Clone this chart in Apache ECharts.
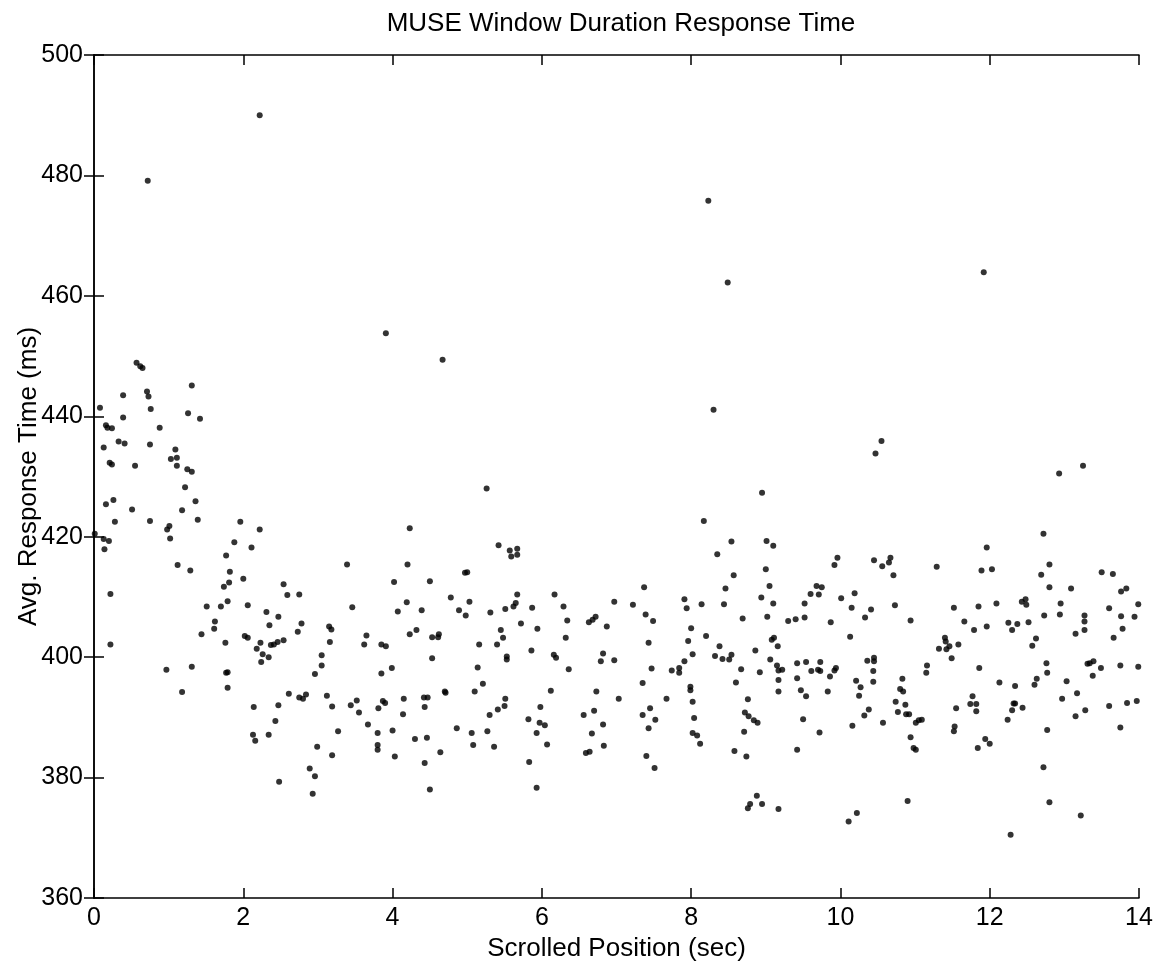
<!DOCTYPE html>
<html>
<head>
<meta charset="utf-8">
<script src="https://cdn.jsdelivr.net/npm/echarts@6/dist/echarts.min.js"></script>
<style>html,body{margin:0;padding:0;background:#fff}#c{width:1162px;height:975px}</style>
</head>
<body>
<div id="c"></div>
<script>
const titleText = 'MUSE Window Duration Response Time';
const xTitle = 'Scrolled Position (sec)';
const yTitle = 'Avg. Response Time (ms)';
const xTicks = [0, 2, 4, 6, 8, 10, 12, 14];
const yTicks = [360, 380, 400, 420, 440, 460, 480, 500];

const positions = [
2.22,0.72,0.57,0.62,0.65,1.31,0.39,0.71,0.73,0.08,0.76,1.26,
0.39,1.42,0.16,0.18,0.24,0.88,0.33,0.41,0.13,0.75,1.09,1.03,1.11,0.21,0.24,0.55,1.11,1.25,1.31,1.22,
0.16,0.26,0.51,1.18,1.36,0.28,0.75,1.39,0.98,1.01,1.02,1.96,2.22,0.01,0.13,0.20,0.14,1.88,2.11,1.77,
1.12,1.29,1.82,2.00,1.81,1.74,3.39,2.54,2.59,2.75,0.22,1.51,1.70,1.79,2.06,3.46,2.31,2.47,2.35,1.62,
1.61,1.44,2.02,2.06,2.78,2.73,3.15,3.18,1.76,2.23,2.37,2.41,2.46,2.54,2.18,2.26,2.34,2.24,3.16,3.05,
3.05,2.96,0.22,0.97,1.31,1.77,1.79,1.79,1.18,2.61,2.75,2.80,2.84,3.12,
3.52,2.14,2.47,3.19,3.44,3.55,2.43,2.13,2.16,2.34,3.27,2.99,3.19,2.89,2.96,2.48,2.93,
3.91,4.67,
5.26,4.23,5.42,5.57,5.67,5.59,5.67,4.20,4.97,5.00,4.02,4.50,4.78,5.03,4.19,4.07,4.39,4.89,4.98,5.31,
5.51,5.67,5.62,5.65,5.87,6.17,6.29,6.97,5.72,5.94,6.34,6.63,6.68,6.72,6.87,3.65,3.62,3.85,3.91,4.23,
4.32,4.53,4.61,4.62,5.16,5.45,5.48,5.40,5.53,5.53,4.53,5.86,6.16,6.19,6.32,6.82,6.79,6.97,6.36,3.99,
3.85,5.14,5.21,5.10,4.70,4.71,6.12,6.73,4.15,4.42,4.47,5.51,7.03,
3.87,3.90,3.81,4.14,4.43,3.67,3.80,4.00,3.80,3.80,4.03,4.30,4.46,4.43,4.64,4.50,4.86,5.06,5.08,5.27,
5.36,5.30,5.41,5.50,5.82,5.98,5.97,6.04,5.93,6.07,5.83,5.93,6.56,6.70,6.82,6.67,6.83,6.59,6.64,
8.23,8.49,8.30,
10.55,10.47,8.95,8.17,8.54,8.35,9.01,9.10,9.00,8.57,9.92,9.96,10.45,10.56,7.37,8.46,9.05,7.22,7.91,7.94,
8.14,8.44,8.94,9.10,9.68,9.75,9.60,9.71,9.52,10.01,10.19,10.15,10.41,10.33,7.39,7.49,8.69,9.02,9.30,9.40,
9.52,9.87,8.00,7.43,7.96,8.20,9.08,9.11,9.16,8.38,8.86,10.13,8.02,7.91,8.32,8.42,8.51,8.54,9.06,7.47,
7.74,7.84,7.84,8.67,8.92,9.15,9.17,9.22,9.42,9.54,9.61,9.73,9.70,9.73,9.92,9.94,9.86,10.36,10.45,10.45,
10.44,7.35,7.99,7.99,8.60,9.17,9.42,9.17,9.47,9.54,9.83,10.21,10.27,10.25,10.44,7.67,8.76,
7.35,7.45,7.52,7.43,7.40,7.51,8.02,8.04,8.02,8.08,8.12,8.72,8.77,8.84,8.89,8.71,8.58,8.74,8.88,8.79,
8.76,8.95,9.17,9.50,9.72,9.42,10.32,10.38,10.16,10.57,10.11,10.22,
11.92,
13.25,12.93,12.72,11.96,10.65,10.67,10.71,11.29,11.89,12.03,12.69,12.80,12.80,13.09,13.50,13.65,13.76,13.83,
10.73,11.52,11.85,12.09,12.43,12.48,12.49,12.95,10.94,11.66,11.79,11.96,12.25,12.30,12.37,12.52,12.73,12.94,
13.27,13.27,13.27,13.60,13.76,13.99,13.94,13.15,13.66,13.78,11.40,11.41,11.32,11.42,11.46,11.58,11.49,12.57,
12.62,11.16,11.15,11.86,12.76,12.77,13.31,13.34,13.39,13.49,13.75,13.38,13.99,10.83,10.80,10.84,12.13,12.34,
12.60,12.63,13.03,13.17,11.77,12.97,
10.74,10.77,10.87,10.88,10.92,10.94,10.98,11.01,11.01,11.05,11.09,10.90,11.55,11.53,11.52,11.74,11.82,11.82,
11.94,12.00,11.84,12.24,12.30,12.32,12.34,12.44,12.28,12.77,12.72,12.80,13.15,13.28,13.22,13.60,13.75,13.84,13.97
];

const responseTimes = [
490.0,479.1,448.9,448.3,448.0,445.1,443.5,444.1,443.3,441.4,441.2,440.5,
439.8,439.6,438.5,438.1,438.0,438.1,435.8,435.5,434.8,435.3,434.5,432.9,433.1,432.3,432.0,431.8,431.8,431.2,430.8,428.2,
425.4,426.1,424.5,424.4,425.9,422.5,422.6,422.8,421.2,421.8,419.7,422.5,421.2,420.5,419.6,419.3,417.9,419.1,418.2,416.9,
415.3,414.4,414.2,413.0,412.4,411.7,415.4,412.1,410.3,410.4,410.5,408.4,408.4,409.3,408.6,408.3,407.5,406.7,405.3,405.9,
404.7,403.8,403.5,403.2,405.6,404.2,405.1,404.6,402.4,402.4,402.0,402.1,402.5,402.8,401.4,400.5,400.0,399.2,402.5,400.3,
398.6,397.2,402.1,397.9,398.4,397.4,397.5,394.9,394.2,393.9,393.3,393.1,393.8,393.6,
392.8,391.7,392.0,391.8,392.0,390.8,389.4,387.1,386.1,387.1,387.7,385.1,383.7,381.5,380.2,379.3,377.3,
453.8,449.4,
428.0,421.4,418.6,417.7,418.0,416.7,417.0,415.4,414.0,414.1,412.5,412.6,409.9,409.2,409.1,407.6,407.8,407.8,406.9,407.4,
408.0,410.4,408.4,409.0,408.2,410.4,408.4,409.2,405.6,404.7,406.1,405.8,406.2,406.7,405.1,403.6,402.1,402.1,401.8,403.8,
404.5,403.3,403.3,403.8,402.1,404.5,403.2,402.1,400.1,399.6,399.8,401.1,400.4,399.9,403.2,400.6,399.3,399.5,398.0,398.2,
397.3,398.3,395.6,394.3,394.3,394.1,394.4,394.3,393.1,393.3,393.3,393.1,393.1,
392.7,392.4,391.5,390.5,391.7,388.8,387.4,387.8,385.4,384.6,383.5,386.4,386.6,382.4,384.2,378.0,388.2,387.4,385.4,387.7,
385.1,390.4,391.3,391.9,389.7,391.7,389.1,388.7,387.4,385.5,382.6,378.3,390.4,391.1,388.8,387.3,385.3,384.1,384.3,
475.8,462.2,441.1,
435.9,433.8,427.3,422.6,419.2,417.1,419.3,418.5,414.6,413.6,415.3,416.5,416.1,415.1,411.6,411.4,411.8,408.7,409.6,408.1,
408.8,408.8,409.9,408.9,411.8,411.6,410.5,410.4,408.9,409.8,410.6,408.2,407.9,406.6,407.1,406.0,406.4,406.7,406.0,406.3,
406.6,405.8,404.8,402.4,402.7,403.5,402.9,403.2,401.8,401.8,401.1,403.4,400.5,399.3,400.2,399.7,399.6,400.4,399.6,398.1,
397.8,398.2,397.4,398.0,397.5,398.6,397.8,397.9,399.0,399.2,397.7,399.2,397.9,397.7,397.8,398.2,396.8,399.4,399.9,399.3,
397.7,395.7,395.1,394.5,395.8,396.2,396.5,394.3,394.5,393.5,394.3,396.1,395.0,393.6,395.9,393.1,393.0,
390.4,391.5,389.6,388.2,383.6,381.6,392.6,389.9,387.4,387.0,385.6,390.8,390.2,389.5,389.1,387.6,384.4,383.5,377.0,375.6,
374.9,375.6,374.8,389.7,387.5,384.6,390.3,391.3,388.6,389.1,372.7,374.1,
463.9,
431.8,430.5,420.5,418.2,415.7,416.5,413.6,415.0,414.4,414.6,413.7,415.4,411.6,411.4,414.1,413.8,410.9,411.4,
408.6,408.2,408.4,408.9,409.2,409.6,408.7,408.9,406.1,405.9,404.5,405.1,405.7,404.5,405.5,405.8,406.9,407.1,
406.9,405.9,404.5,408.1,406.8,408.8,406.7,403.9,403.2,404.7,403.2,402.6,401.4,401.3,401.8,402.1,399.8,401.9,
403.1,398.6,397.4,398.2,399.0,397.4,398.9,399.0,399.3,398.2,398.6,396.9,398.4,396.4,394.7,394.3,395.8,395.2,
395.4,396.4,396.0,394.0,393.5,393.1,
392.6,390.9,392.1,390.5,390.5,386.7,384.9,384.6,389.1,389.5,389.6,376.1,391.5,388.5,387.7,392.2,392.2,391.0,
386.4,385.6,384.9,389.6,391.2,392.3,392.3,391.6,370.5,387.9,381.7,375.9,390.2,391.2,373.7,391.9,388.3,392.4,392.7
];

const data = positions.map((x, i) => [x, responseTimes[i]]);

const chart = echarts.init(document.getElementById('c'), null, {renderer: 'canvas'});
const FONT = '"Liberation Sans", Arial, Helvetica, sans-serif';
const axisLine = {show: true, lineStyle: {color: '#000', width: 1.5}};
const tick = {show: true, inside: true, length: 10, lineStyle: {color: '#000', width: 1.5}};

chart.setOption({
  animation: false,
  backgroundColor: '#fff',
  title: {
    text: titleText, left: 616, textAlign: 'center', top: 6,
    textStyle: {fontFamily: FONT, fontSize: 26, fontWeight: 'normal', color: '#000'}
  },
  grid: {left: 94, right: 23, top: 55, bottom: 77, containLabel: false, outerBoundsMode: 'none'},
  xAxis: [{
    type: 'value', min: xTicks[0], max: xTicks[xTicks.length - 1], interval: 2,
    position: 'bottom',
    name: xTitle, nameLocation: 'middle', nameGap: 38, nameMoveOverlap: false,
    nameTextStyle: {fontFamily: FONT, fontSize: 26, color: '#000'},
    axisLine: axisLine, axisTick: tick, splitLine: {show: false},
    axisLabel: {fontFamily: FONT, fontSize: 25, color: '#000', margin: 8}
  }, {
    type: 'value', min: xTicks[0], max: xTicks[xTicks.length - 1], interval: 2,
    position: 'top',
    axisLine: axisLine, axisTick: tick, splitLine: {show: false},
    axisLabel: {show: false}
  }],
  yAxis: [{
    type: 'value', min: yTicks[0], max: yTicks[yTicks.length - 1], interval: 20,
    position: 'left',
    name: yTitle, nameLocation: 'middle', nameGap: 52, nameMoveOverlap: false,
    nameTextStyle: {fontFamily: FONT, fontSize: 26, color: '#000'},
    axisLine: axisLine, axisTick: tick, splitLine: {show: false},
    axisLabel: {fontFamily: FONT, fontSize: 25, color: '#000', margin: 11}
  }, {
    type: 'value', min: yTicks[0], max: yTicks[yTicks.length - 1], interval: 20,
    position: 'right',
    axisLine: axisLine, axisTick: tick, splitLine: {show: false},
    axisLabel: {show: false}
  }],
  series: [{
    type: 'scatter',
    xAxisIndex: 0, yAxisIndex: 0,
    data: data,
    symbol: 'circle',
    symbolSize: 6,
    itemStyle: {color: '#000'}
  }]
});
</script>
</body>
</html>
